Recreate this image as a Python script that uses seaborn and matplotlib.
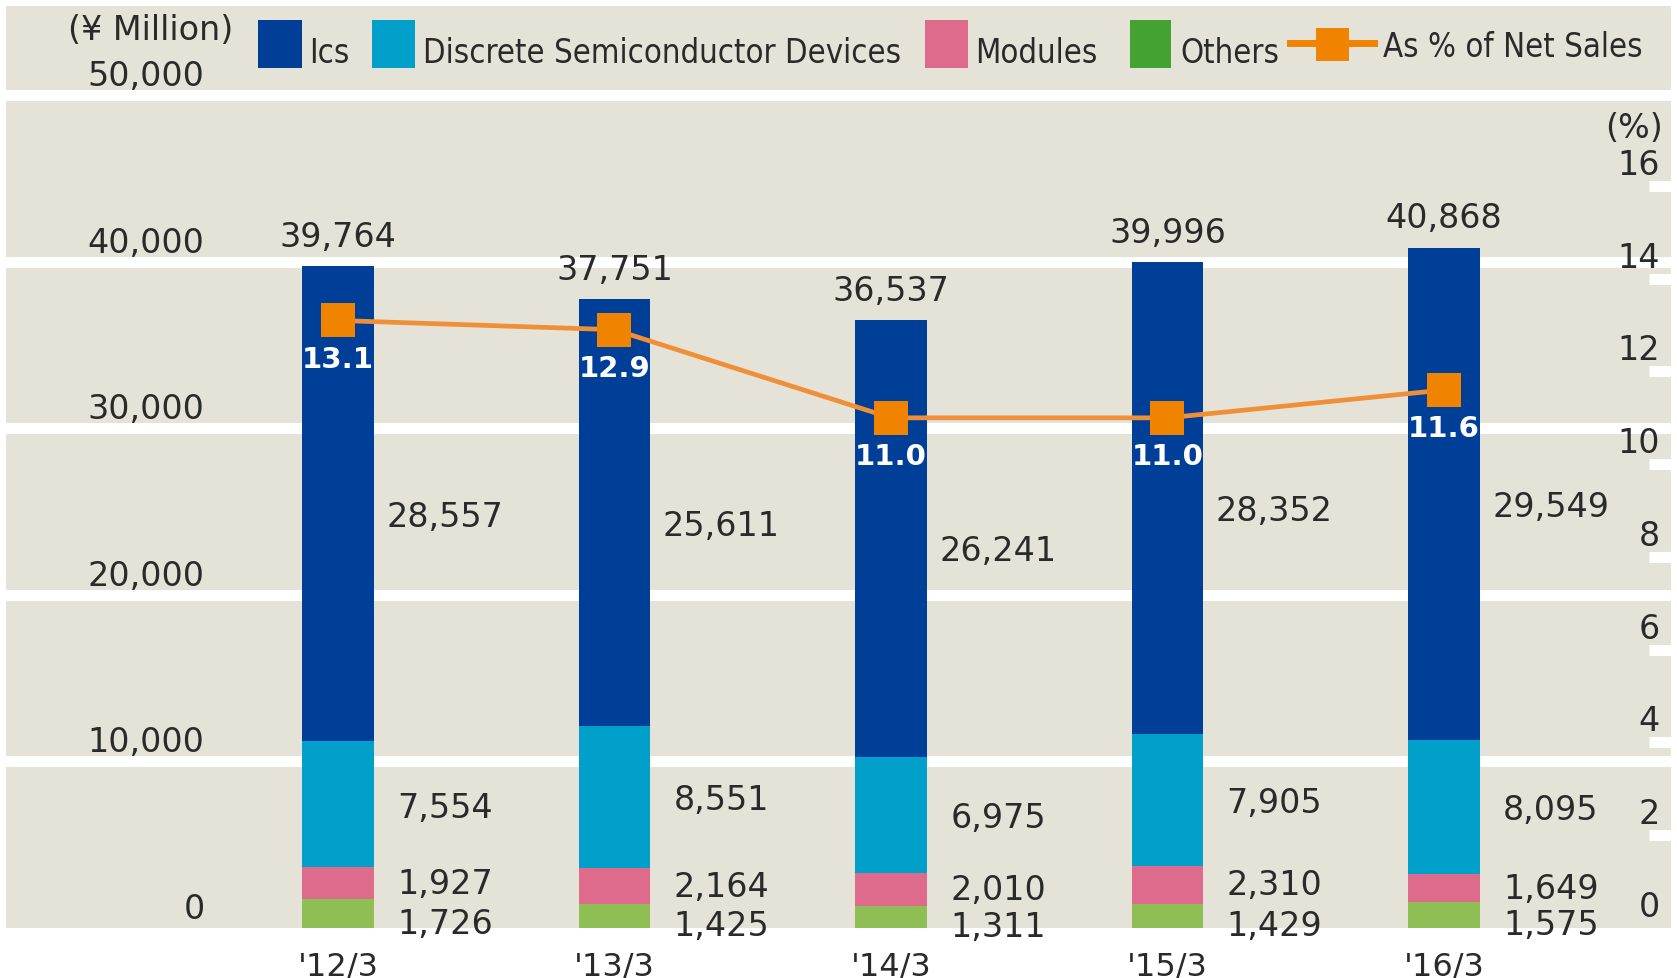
import numpy as np
import pandas as pd
import matplotlib
matplotlib.use("Agg")
import matplotlib.pyplot as plt
import seaborn as sns
from matplotlib.patches import Rectangle
from matplotlib.lines import Line2D
from matplotlib import font_manager
from matplotlib.font_manager import FontProperties
from matplotlib.transforms import ScaledTranslation

# ---------------- data ----------------
years = ["'12/3", "'13/3", "'14/3", "'15/3", "'16/3"]
ics = [28557, 25611, 26241, 28352, 29549]
discrete = [7554, 8551, 6975, 7905, 8095]
modules = [1927, 2164, 2010, 2310, 1649]
others = [1726, 1425, 1311, 1429, 1575]
totals = [39764, 37751, 36537, 39996, 40868]
pct = [13.1, 12.9, 11.0, 11.0, 11.6]
left_ticks = [0, 10000, 20000, 30000, 40000, 50000]
right_ticks = [0, 2, 4, 6, 8, 10, 12, 14, 16]
legend_labels = ["Ics", "Discrete Semiconductor Devices", "Modules", "Others", "As % of Net Sales"]

# ---------------- style ----------------
C_ICS = "#003F98"
C_DIS = "#00A0CB"
C_MOD = "#DE6A8C"
C_OTH = "#8FBE55"
C_OTH_LEG = "#43A231"
C_LINE = "#EF9038"
C_MARK = "#F08400"
BG = "#E5E3D7"
TXT = "#2A2A2A"
NUM_FS = 24

W, H = 1677, 979
fig = plt.figure(figsize=(W / 100, H / 100), dpi=100)
fig.patch.set_facecolor("white")

ax_left, ax_right, ax_top, ax_bottom = 6, 1671, 7, 929
ax = fig.add_axes([ax_left / W, 1 - ax_bottom / H, (ax_right - ax_left) / W, (ax_bottom - ax_top) / H])
ax.set_facecolor(BG)

df = pd.DataFrame({"year": years, "ics": ics, "discrete": discrete,
                   "modules": modules, "others": others})
df["c1"] = df["others"]
df["c2"] = df["c1"] + df["modules"]
df["c3"] = df["c2"] + df["discrete"]
df["c4"] = df["c3"] + df["ics"]

for col, colr in [("c4", C_ICS), ("c3", C_DIS), ("c2", C_MOD), ("c1", C_OTH)]:
    sns.barplot(data=df, x="year", y=col, color=colr, saturation=1, width=0.26,
                errorbar=None, ax=ax, zorder=3)

ax.set_xlim(-1.2007, 4.821)
ax.set_ylim(0, 55375)
for v in left_ticks[1:]:
    ax.axhline(v, color="white", lw=7.9, zorder=1)

for s in ax.spines.values():
    s.set_visible(False)
ax.set_xlabel("")
ax.set_ylabel("")
ax.set_yticks(left_ticks)
ax.set_yticklabels([f"{v:,}" for v in left_ticks])
ax.tick_params(axis="y", length=0, pad=-143, labelsize=NUM_FS, labelcolor=TXT)
up = ScaledTranslation(0, 3 / 100, fig.dpi_scale_trans)
for lbl in ax.get_yticklabels():
    lbl.set_va("bottom")
    lbl.set_transform(lbl.get_transform() + up)
ax.tick_params(axis="x", length=0, pad=16, labelsize=23, labelcolor=TXT)

# segment labels
for i in range(len(years)):
    ax.annotate(f"{ics[i]:,}", xy=(i + 0.387, df["c3"][i] + ics[i] / 2),
                xytext=(0, -9), textcoords="offset points",
                ha="center", va="center", fontsize=NUM_FS, color=TXT)
    ax.annotate(f"{discrete[i]:,}", xy=(i + 0.387, df["c2"][i] + discrete[i] / 2),
                xytext=(0, -2), textcoords="offset points",
                ha="center", va="center", fontsize=NUM_FS, color=TXT)
    ax.annotate(f"{modules[i]:,}", xy=(i + 0.387, df["c1"][i] + modules[i] / 2),
                ha="center", va="center", fontsize=NUM_FS, color=TXT)
    ax.annotate(f"{others[i]:,}", xy=(i + 0.387, others[i] / 2),
                xytext=(0, -7), textcoords="offset points",
                ha="center", va="center", fontsize=NUM_FS, color=TXT)
    ax.annotate(f"{totals[i]:,}", xy=(i, totals[i]), xytext=(0, 14.5),
                textcoords="offset points", ha="center", va="baseline",
                fontsize=NUM_FS, color=TXT)

# ---------------- right axis: percentage line ----------------
ax2 = ax.twinx()
ax2.patch.set_visible(False)
sns.lineplot(x=list(range(len(years))), y=pct, ax=ax2, color=C_LINE, linewidth=3.4,
             marker="s", markersize=24, markerfacecolor=C_MARK,
             markeredgecolor=C_MARK, markeredgewidth=0, zorder=5)
ax2.set_ylim(0, 19.88)
ax2.set_xlim(-1.2007, 4.821)
for s in ax2.spines.values():
    s.set_visible(False)
ax2.set_ylabel("")
ax2.set_yticks(right_ticks)
ax2.set_yticklabels([str(v) for v in right_ticks])
ax2.tick_params(axis="y", direction="in", length=15.8, width=7.9, color="white",
                pad=-8, labelsize=NUM_FS, labelcolor=TXT)
up2 = ScaledTranslation(0, 5 / 100, fig.dpi_scale_trans)
for lbl in ax2.get_yticklabels():
    lbl.set_ha("right")
    lbl.set_va("bottom")
    lbl.set_transform(lbl.get_transform() + up2)
ax2.yaxis.get_major_ticks()[0].tick2line.set_visible(False)

for i, v in enumerate(pct):
    ax2.annotate(f"{v:.1f}", xy=(i, v), xytext=(0, -27.5), textcoords="offset points",
                 ha="center", va="center", fontsize=21, fontweight="bold", color="white",
                 zorder=6)

# ---------------- unit labels ----------------
fig.text(233 / W, 1 - 30 / H, "(¥ Million)", ha="right", va="center",
         fontsize=NUM_FS, color=TXT)
fig.text(1663 / W, 1 - 129 / H, "(%)", ha="right", va="center",
         fontsize=NUM_FS, color=TXT)

# ---------------- legend font: look for a condensed face ----------------
cond = None
for f in font_manager.fontManager.ttflist:
    nm = f.name.lower()
    st = str(f.stretch).lower()
    if f.style != "normal":
        continue
    if str(f.weight) not in ("400", "normal", "regular"):
        continue
    if ("narrow" in nm or "condensed" in nm or st in ("condensed", "semi-condensed", "extra-condensed")
            or (isinstance(f.stretch, int) and f.stretch < 500)):
        if "sans" in nm or "roboto" in nm or "lato" in nm or "inter" in nm:
            cond = f
            break
if cond is not None:
    leg_fp = FontProperties(fname=cond.fname)
else:
    leg_fp = FontProperties(family="DejaVu Sans")

renderer = fig.canvas.get_renderer()
probe = fig.text(0, 0, legend_labels[1], fontproperties=leg_fp, fontsize=29)
wpx = probe.get_window_extent(renderer).width
probe.remove()
LEG_FS = min(30, 29 * 478 / wpx)


def fx(x):
    return x / W


def fy(y):
    return 1 - y / H


leg_boxes = [(258, 302, C_ICS, 309), (372, 415, C_DIS, 423),
             (925, 968, C_MOD, 975), (1130, 1171, C_OTH_LEG, 1180)]
for (x0, x1, colr, tx), lab in zip(leg_boxes, legend_labels[:4]):
    fig.add_artist(Rectangle((fx(x0), fy(69)), (x1 - x0) / W, 48 / H,
                             transform=fig.transFigure, color=colr, lw=0))
    fig.text(fx(tx), fy(63), lab, fontproperties=leg_fp, fontsize=LEG_FS, color=TXT,
             va="baseline", ha="left")

fig.add_artist(Line2D([fx(1290), fx(1374)], [fy(43.5), fy(43.5)],
                      transform=fig.transFigure, color=C_MARK, lw=5))
fig.add_artist(Rectangle((fx(1316), fy(62)), 33 / W, 33 / H,
                         transform=fig.transFigure, color=C_MARK, lw=0))
fig.text(fx(1383), fy(57), legend_labels[4], fontproperties=leg_fp, fontsize=LEG_FS,
         color=TXT, va="baseline", ha="left")

fig.savefig("out.png", dpi=100, facecolor="white")
